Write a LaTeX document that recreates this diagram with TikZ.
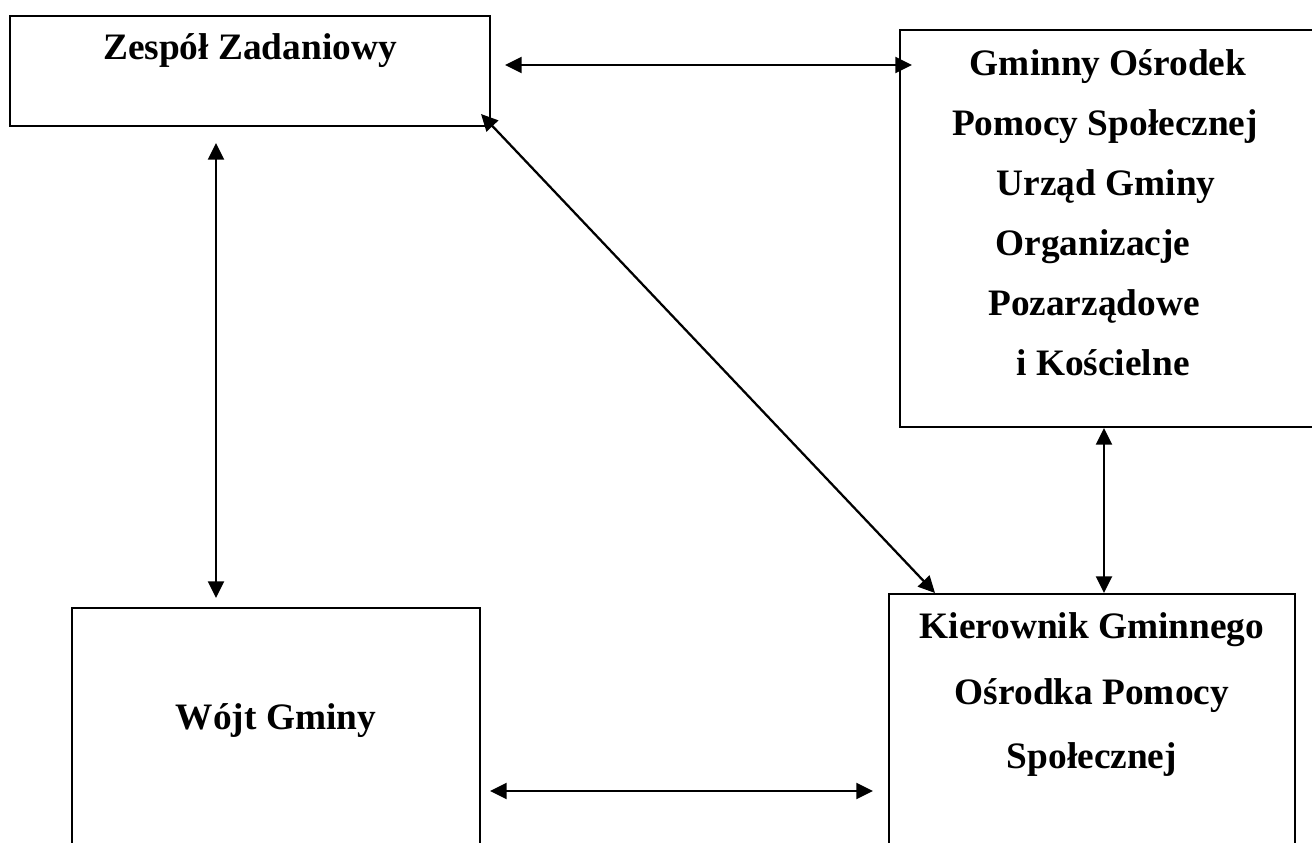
\documentclass[tikz,border=0pt]{standalone}
\usepackage{fontspec}
\setmainfont{Liberation Serif}
\usepackage{tikz}
\usetikzlibrary{calc}
\usetikzlibrary{arrows.meta}
\tikzset{main/.style={draw=black, line width=1.4pt, rectangle, inner sep=0pt, anchor=north west},
	word/.style={font=\fontsize{28pt}{30pt}\selectfont\bfseries, anchor=base, inner sep=0pt},
	link/.style={{Triangle[length=12.5pt,width=12pt]}-{Triangle[length=12.5pt,width=12pt]}, line width=1.7pt}}

\begin{document}
\begin{tikzpicture}[x=0.75pt, y=-0.75pt]
		\clip (0,0) rectangle (1312,842);
		
		\node[main, minimum width=360pt, minimum height=82.5pt] (zespol) at (9,15) {};
		\node[main, minimum width=330pt, minimum height=297.75pt] (gops) at (899,29) {};
		\node[main, minimum width=306pt, minimum height=225pt] (wojt) at (71,607) {};
		\node[main, minimum width=304.5pt, minimum height=225pt] (kier) at (888,593) {};
		
		\node[word] (zespol1) at ($(zespol.north)+(0,45)$) {Zespół Zadaniowy};
		
		\node[word] (gops1) at (1108,75) {Gminny Ośrodek};
		\node[word] (gops2) at (1105,135) {Pomocy Społecznej};
		\node[word] (gops3) at (1106,195) {Urząd Gminy};
		\node[word] (gops4) at (1093,255) {Organizacje};
		\node[word] (gops5) at (1094,315) {Pozarządowe};
		\node[word] (gops6) at (1103,375) {i Kościelne};
		
		\node[word] (kier1) at ($(kier.north)+(0,45)$) {Kierownik Gminnego};
		\node[word] (kier2) at ($(kier.north)+(0,111)$) {Ośrodka Pomocy};
		\node[word] (kier3) at ($(kier.north)+(0,175)$) {Społecznej};
		
		\node[word] (wojt1) at ($(wojt.north)+(0,122)$) {Wójt Gminy};
		
		\coordinate (a1) at (505,65);
		\coordinate (a2) at (912,65);
		\coordinate (b1) at (216,143);
		\coordinate (b2) at (216,598);
		\coordinate (c1) at (481,114);
		\coordinate (c2) at (935,593);
		\coordinate (d1) at (1104,428);
		\coordinate (d2) at (1104,593);
		\coordinate (e1) at (490,791);
		\coordinate (e2) at (873,791);
		
		\draw[link] (a1) -- (a2);
		\draw[link] (b1) -- (b2);
		\draw[link] (c1) -- (c2);
		\draw[link] (d1) -- (d2);
		\draw[link] (e1) -- (e2);
	\end{tikzpicture}
\end{document}
